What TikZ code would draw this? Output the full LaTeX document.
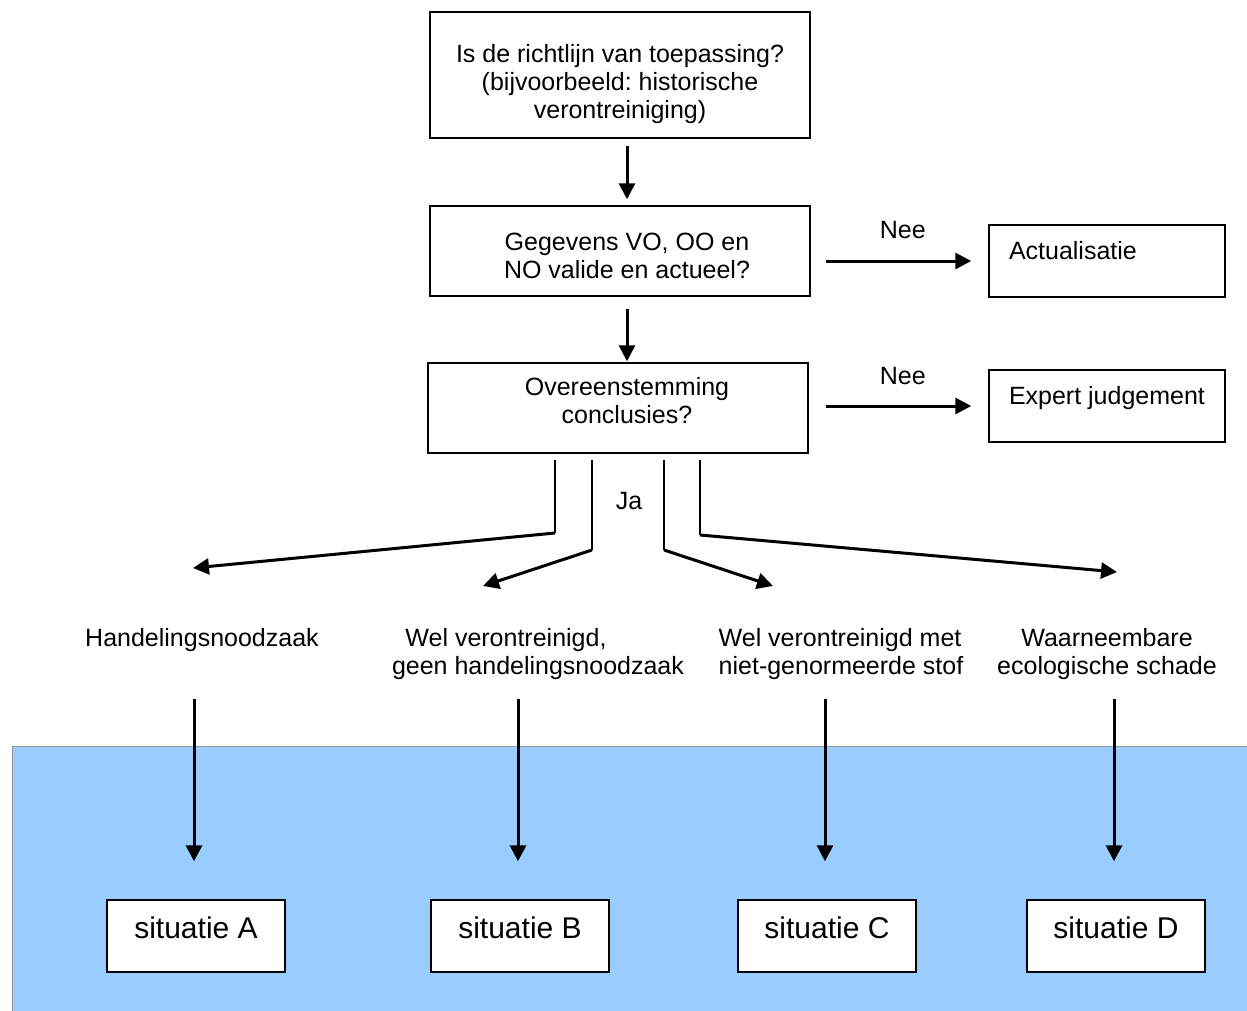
\documentclass[tikz,border=0pt]{standalone}
\usepackage{fontspec}
\setmainfont{Liberation Sans}
\usetikzlibrary{arrows.meta}
\frenchspacing

\definecolor{skyblue}{RGB}{153,204,255}
\definecolor{edgegray}{RGB}{150,150,150}

\tikzset{
  box/.style={draw, line width=0.75pt, fill=white, align=center},
  sidebox/.style={box, align=flush left, inner xsep=10pt, text width=98pt, minimum height=36pt, text height=8.6pt, text depth=10pt},
  sitbox/.style={box, minimum width=89pt, minimum height=36pt, font=\fontsize{15}{18}\selectfont, text depth=8.5pt},
  arr/.style={-{Triangle[length=8pt,width=8pt]}, line width=1.5pt},
  leg/.style={line width=1pt},
}

\begin{document}
\begin{tikzpicture}[x=0.5pt, y=-0.5pt, font=\fontsize{12.5}{14}\selectfont]
    \useasboundingbox (0,0) rectangle (1247,1011);

    % Blue area
    \fill [fill=skyblue, draw=edgegray] (12,746) rectangle (1262,1024);

    % Questions
    \node (q1) [box, minimum width=190pt, minimum height=63pt] at (620,75) {\rule{0pt}{18pt}Is de richtlijn van toepassing?\\(bijvoorbeeld: historische\\verontreiniging)};
    \node (q2) [box, minimum width=190pt, minimum height=45pt] at (620,251) {\hspace*{7pt}\rule{0pt}{14pt}Gegevens VO, OO en\\\hspace*{7pt}NO valide en actueel?};
    \node (q3) [box, minimum width=190pt, minimum height=45pt] at (618,408) {\hspace*{9pt}Overeenstemming\\\hspace*{9pt}conclusies?\rule[-7.2pt]{0pt}{0pt}};
    \draw [arr] ([xshift=3.5pt,yshift=-3.5pt]q1.south) -- ([xshift=3.5pt,yshift=3pt]q2.north);
    \draw [arr] ([xshift=3.5pt,yshift=-6pt]q2.south) -- ([xshift=4.5pt,yshift=0.5pt]q3.north);

    % Nee
    \node (act) [sidebox] at (1107,261) {\mbox{Actualisatie}};
    \node (exp) [sidebox] at (1107,406) {\mbox{Expert judgement}};
    \draw [arr] ([xshift=7.5pt]q2.east |- act) -- ([xshift=-8.5pt]act.west) node [pos=0.53, yshift=15.5pt] {Nee};
    \draw [arr] ([xshift=8.5pt]q3.east |- exp) -- ([xshift=-8.5pt]exp.west) node [pos=0.53, yshift=15pt] {Nee};

    % Ja
    \node (ja) at (629,501) {Ja};
    \coordinate (j1) at (555,460);
    \coordinate (k1) at (555,533);
    \coordinate (t1) at (193,568);
    \coordinate (j2) at (592,460);
    \coordinate (k2) at (592,550);
    \coordinate (t2) at (483,586);
    \coordinate (j3) at (664,460);
    \coordinate (k3) at (664,550);
    \coordinate (t3) at (773,586);
    \coordinate (j4) at (700,460);
    \coordinate (k4) at (700,535);
    \coordinate (t4) at (1117,572);
    \foreach \n in {1,2,3,4}
    {
      \draw [leg] (j\n) -- (k\n);
      \draw [arr] (k\n) -- (t\n);
    };

    % Outcomes
    \node (hA) at (202,640) {Handelingsnoodzaak};
    \node (hB) [align=center] at (538,654) {Wel verontreinigd,\hspace*{32pt}\\geen handelingsnoodzaak};
    \node (hC) [align=left] at (841,654) {Wel verontreinigd met\\niet-genormeerde stof};
    \node (hD) [align=center] at (1107,654) {Waarneembare\\ecologische schade};

    % Situations
    \node (sitA) [sitbox] at (196,936) {situatie A};
    \node (sitB) [sitbox] at (520,936) {situatie B};
    \node (sitC) [sitbox] at (827,936) {situatie C};
    \node (sitD) [sitbox] at (1116,936) {situatie D};
    \foreach \s in {A,B,C,D}
    {
      \draw [arr] ([xshift=-1pt,yshift=100pt]sit\s.north) -- ([xshift=-1pt,yshift=19pt]sit\s.north);
    };

\end{tikzpicture}
\end{document}
